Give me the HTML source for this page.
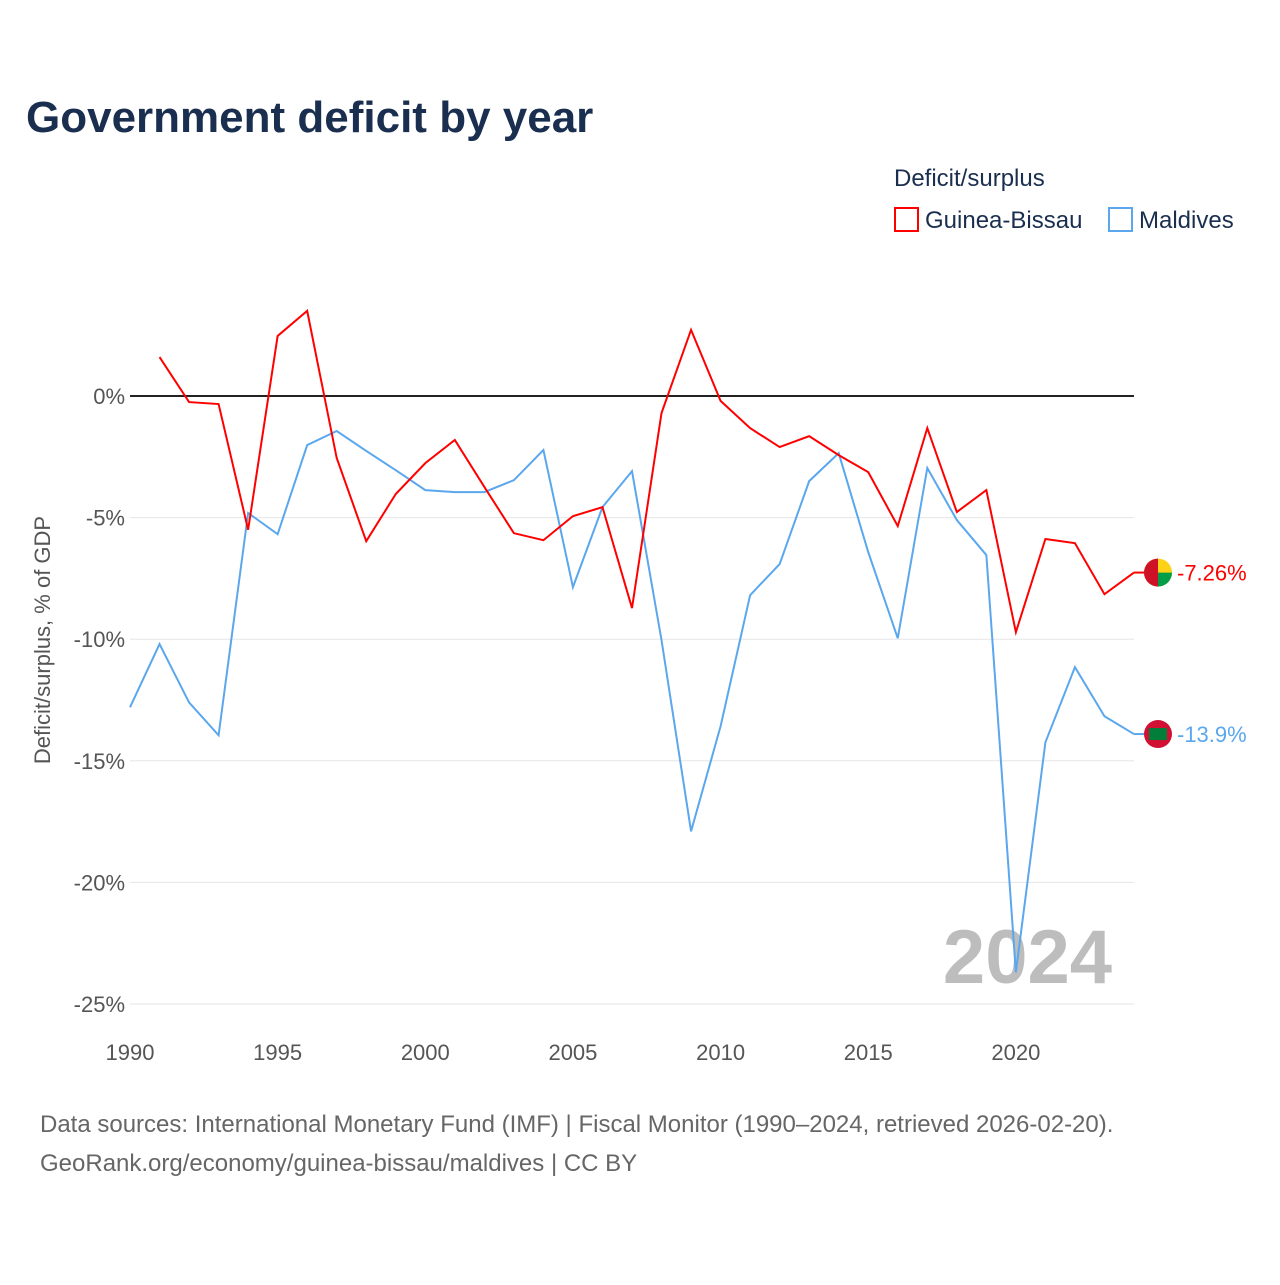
<!DOCTYPE html>
<html><head><meta charset="utf-8">
<style>
body{margin:0;background:#fff;font-family:"Liberation Sans",sans-serif;}
svg text{font-family:"Liberation Sans",sans-serif;}
</style></head>
<body>
<svg width="1280" height="1280" viewBox="0 0 1280 1280">
<rect width="1280" height="1280" fill="#fff"/>
<text x="26" y="132" font-size="44" font-weight="bold" fill="#1a2e4f">Government deficit by year</text>
<text x="894" y="186" font-size="24" fill="#1a2e4f">Deficit/surplus</text>
<g>
<rect x="895" y="208" width="23" height="23" fill="none" stroke="#ff0000" stroke-width="2"/>
<text x="925" y="228" font-size="24" fill="#1a2e4f">Guinea-Bissau</text></g>
<g>
<rect x="1109" y="208" width="23" height="23" fill="none" stroke="#5aa7ee" stroke-width="2"/>
<text x="1139" y="228" font-size="24" fill="#1a2e4f">Maldives</text></g>
<g id="grid"></g>
<g id="yticks"></g>
<g id="xticks"></g>
<text transform="translate(50,640) rotate(-90)" text-anchor="middle" font-size="22" fill="#555">Deficit/surplus, % of GDP</text>
<text x="1112" y="983" text-anchor="end" font-size="76" font-weight="bold" fill="#bdbdbd">2024</text>
<g id="series"></g>
<text x="40" y="1132" font-size="24" fill="#666">Data sources: International Monetary Fund (IMF) | Fiscal Monitor (1990–2024, retrieved 2026-02-20).</text>
<text x="40" y="1171" font-size="24" fill="#666">GeoRank.org/economy/guinea-bissau/maldives | CC BY</text>
</svg>
<script>
const years=[1990,1991,1992,1993,1994,1995,1996,1997,1998,1999,2000,2001,2002,2003,2004,2005,2006,2007,2008,2009,2010,2011,2012,2013,2014,2015,2016,2017,2018,2019,2020,2021,2022,2023,2024];
const guineaBissau=[null,1.6,-0.25,-0.33,-5.5,2.47,3.5,-2.55,-5.97,-4.03,-2.76,-1.81,-3.74,-5.64,-5.93,-4.94,-4.57,-8.72,-0.7,2.72,-0.2,-1.32,-2.1,-1.65,-2.43,-3.13,-5.35,-1.32,-4.77,-3.87,-9.71,-5.88,-6.05,-8.15,-7.26];
const maldives=[-12.8,-10.2,-12.6,-13.95,-4.81,-5.68,-2.02,-1.44,-2.26,-3.05,-3.87,-3.95,-3.95,-3.46,-2.22,-7.86,-4.57,-3.09,-10.04,-17.9,-13.58,-8.19,-6.91,-3.5,-2.35,-6.42,-9.96,-2.96,-5.1,-6.54,-23.7,-14.24,-11.15,-13.17,-13.9];
const yTicks=[0,-5,-10,-15,-20,-25];
const xTicks=[1990,1995,2000,2005,2010,2015,2020];
const NS="http://www.w3.org/2000/svg";
const x=y=>130+(y-1990)*(1134-130)/34;
const yy=v=>396-v*(1004-396)/25;
function mk(tag,attrs,parent){const e=document.createElementNS(NS,tag);for(const k in attrs)e.setAttribute(k,attrs[k]);parent.appendChild(e);return e;}
const grid=document.getElementById('grid'),yt=document.getElementById('yticks'),xt=document.getElementById('xticks'),ser=document.getElementById('series');
yTicks.forEach(t=>{
 const l=mk('line',{x1:130,x2:1134,y1:yy(t),y2:yy(t),stroke:t===0?'#222':'#e6e6e6','stroke-width':t===0?2:1},grid);
 
 
 const tx=mk('text',{x:125,y:yy(t)+8,'text-anchor':'end','font-size':22,fill:'#555'},yt);
 tx.textContent=t+'%';
 
 
});
xTicks.forEach(t=>{
 const tx=mk('text',{x:x(t),y:1060,'text-anchor':'middle','font-size':22,fill:'#555'},xt);
 tx.textContent=t;
 
 
});
function drawLine(vals,color,name,label){
 let d='';vals.forEach((v,i)=>{if(v===null)return;d+=(d?'L':'M')+x(years[i])+','+yy(v);});
 const p=mk('path',{d:d,fill:'none',stroke:color,'stroke-width':2},ser);
 
 
 const lv=vals[vals.length-1],ly=yy(lv);
 mk('line',{x1:x(2024),x2:1150,y1:ly,y2:ly,stroke:color,'stroke-width':2},ser);
 const c=mk('circle',{cx:1158,cy:ly,r:14,fill:name==='maldives'?'#d21034':'#fcd116'},ser);
 
 
 if(name==='maldives'){mk('rect',{x:1149,y:ly-6,width:18,height:12,fill:'#007e3a'},ser);}
 else{mk('path',{d:`M1158,${ly-14}A14,14 0 0 0 1158,${ly+14}Z`,fill:'#ce1126'},ser);mk('path',{d:`M1158,${ly}L1172,${ly}A14,14 0 0 1 1158,${ly+14}Z`,fill:'#009e49'},ser);}
 const t=mk('text',{x:1177,y:ly+8,'font-size':22,fill:color},ser);
 t.textContent=label;
 
 
}
drawLine(maldives,'#5aa7ee','maldives','-13.9%');
drawLine(guineaBissau,'#ff0000','guinea-bissau','-7.26%');
</script>
</body></html>
